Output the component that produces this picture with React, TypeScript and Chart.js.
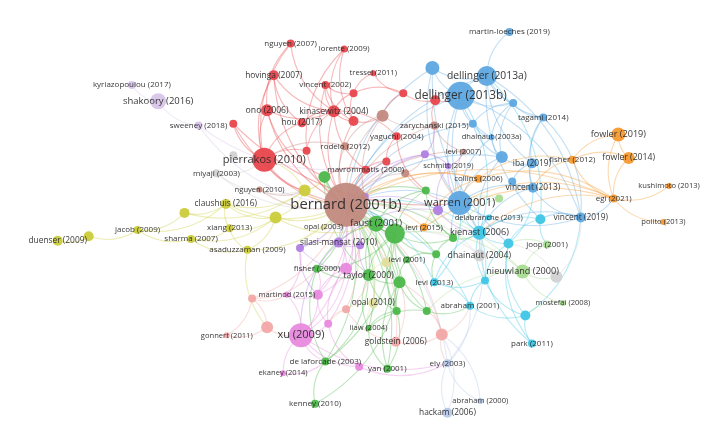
import React, { useEffect, useRef } from "react";
import { Chart, registerables } from "chart.js";
Chart.register(...registerables);

// cluster colours (VOSviewer-like palette)
const clusterColors = [
  "#e8474d", // 0 red
  "#c28a80", // 1 brown
  "#5ea8e2", // 2 blue
  "#f59a33", // 3 orange
  "#4cb84a", // 4 green
  "#cccc3c", // 5 yellow
  "#b07fe3", // 6 purple
  "#d8c5ea", // 7 light purple
  "#e88ade", // 8 pink
  "#f2a8a6", // 9 salmon
  "#40c6e6", // 10 cyan
  "#a9dc92", // 11 light green
  "#b5c8e8", // 12 light blue
  "#d2d2d2", // 13 gray
  "#e2dea0", // 14 pale yellow
];

// nodes: [id, label, x, y, weight]
const redNodes: [string, string, number, number, number][] = [
  ["r1", "nguyen (2007)", 286, 24, 4],
  ["r2", "lorente (2009)", 343, 30, 3.5],
  ["r3", "hovinga (2007)", 268, 59, 5],
  ["r4", "vincent (2002)", 323, 70, 4],
  ["r5", "tressel (2011)", 374, 57, 3],
  ["r6", "", 353, 79, 4],
  ["r7", "", 406, 79, 4],
  ["r8", "", 440, 87, 5],
  ["r9", "ono (2006)", 261, 98, 6],
  ["r10", "kinasewitz (2004)", 332, 99, 6],
  ["r11", "", 353, 110, 5],
  ["r12", "hou (2017)", 298, 112, 4.5],
  ["r13", "", 225, 113, 4],
  ["r14", "", 303, 143, 4],
  ["r15", "yaguchi (2004)", 399, 127, 4],
  ["r16", "", 388, 155, 4],
  ["r17", "mavrommatis (2000)", 366, 164, 4],
  ["r18", "pierrakos (2010)", 258, 153, 12],
];
const brownNodes: [string, string, number, number, number][] = [
  ["b1", "bernard (2001b)", 345, 203, 22],
  ["b2", "", 384, 104, 6],
  ["b3", "zarychanski (2015)", 439, 115, 4],
  ["b4", "rodelo (2012)", 344, 138, 4],
  ["b5", "levi (2007)", 470, 144, 3],
  ["b6", "", 408, 168, 4],
  ["b7", "nguyen (2010)", 253, 186, 3],
];
const blueNodes: [string, string, number, number, number][] = [
  ["u1", "martin-loeches (2019)", 519, 11, 4],
  ["u2", "", 437, 51, 7],
  ["u3", "dellinger (2013a)", 495, 60, 10],
  ["u4", "dellinger (2013b)", 467, 82, 14],
  ["u5", "", 523, 90, 4],
  ["u6", "tagami (2014)", 555, 106, 4],
  ["u7", "", 480, 113, 4],
  ["u8", "dhainaut (2003a)", 500, 128, 3],
  ["u9", "", 511, 150, 6],
  ["u10", "iba (2019)", 543, 157, 5],
  ["u11", "", 522, 177, 4],
  ["u12", "vincent (2013)", 544, 184, 5],
  ["u13", "warren (2001)", 466, 201, 12],
  ["u14", "vincent (2019)", 595, 217, 5],
];
const orangeNodes: [string, string, number, number, number][] = [
  ["o1", "fowler (2019)", 635, 125, 7],
  ["o2", "fowler (2014)", 646, 151, 6],
  ["o3", "fisher (2012)", 586, 153, 4],
  ["o4", "collins (2006)", 486, 174, 4],
  ["o5", "egi (2021)", 630, 196, 4],
  ["o6", "kushimoto (2013)", 689, 182, 3],
  ["o7", "polito (2013)", 683, 222, 3],
  ["o8", "levi (2015)", 428, 228, 4],
];
const greenNodes: [string, string, number, number, number][] = [
  ["g1", "", 322, 172, 6],
  ["g2", "", 430, 187, 4],
  ["g3", "faust (2001)", 377, 224, 8],
  ["g4", "", 397, 235, 10],
  ["g5", "", 459, 240, 4],
  ["g6", "", 441, 258, 4],
  ["g7", "levi (2001)", 410, 264, 3.5],
  ["g8", "fisher (2000)", 314, 274, 4],
  ["g9", "taylor (2000)", 369, 281, 6],
  ["g10", "", 402, 289, 6],
  ["g11", "", 399, 321, 4],
  ["g12", "", 431, 321, 4],
  ["g13", "liaw (2004)", 369, 340, 3],
  ["g14", "de laforcade (2003)", 323, 377, 4],
  ["g15", "yan (2001)", 389, 385, 4],
  ["g16", "kenney (2010)", 312, 424, 4],
];
const yellowNodes: [string, string, number, number, number][] = [
  ["y1", "duenser (2009)", 38, 243, 5],
  ["y2", "", 71, 238, 5],
  ["y3", "jacob (2009)", 123, 231, 4],
  ["y4", "", 173, 212, 5],
  ["y5", "sharma (2007)", 180, 241, 4],
  ["y6", "claushuis (2016)", 217, 202, 5],
  ["y7", "xiang (2013)", 221, 229, 4],
  ["y8", "asaduzzaman (2009)", 240, 253, 4],
  ["y9", "", 270, 217, 6],
  ["y10", "", 301, 187, 6],
];
const purpleNodes: [string, string, number, number, number][] = [
  ["p1", "schmitt (2019)", 454, 160, 3],
  ["p2", "", 429, 147, 4],
  ["p3", "", 365, 194, 4],
  ["p4", "", 443, 209, 5],
  ["p5", "silasi-mansat (2010)", 337, 245, 5],
  ["p6", "", 360, 248, 4],
  ["p7", "", 296, 251, 4],
];
const lightPurpleNodes: [string, string, number, number, number][] = [
  ["lp1", "kyriazopoulou (2017)", 117, 70, 4],
  ["lp2", "shakoory (2016)", 145, 88, 8],
  ["lp3", "sweeney (2018)", 188, 115, 4],
];
const pinkNodes: [string, string, number, number, number][] = [
  ["k1", "xu (2009)", 297, 348, 12],
  ["k2", "", 345, 274, 6],
  ["k3", "martinod (2015)", 282, 303, 3],
  ["k4", "", 315, 303, 5],
  ["k5", "", 326, 335, 4],
  ["k6", "ekaney (2014)", 278, 390, 3],
  ["k7", "", 359, 383, 4],
];
const salmonNodes: [string, string, number, number, number][] = [
  ["s1", "gonnert (2011)", 218, 348, 3],
  ["s2", "", 261, 339, 6],
  ["s3", "", 245, 307, 4],
  ["s4", "", 345, 319, 4],
  ["s5", "", 447, 347, 6],
  ["s6", "goldstein (2006)", 398, 355, 5],
];
const cyanNodes: [string, string, number, number, number][] = [
  ["c1", "delabranche (2013)", 497, 217, 3],
  ["c2", "", 552, 219, 5],
  ["c3", "kienast (2006)", 487, 234, 7],
  ["c4", "", 518, 246, 5],
  ["c5", "levi (2013)", 439, 289, 4],
  ["c6", "", 493, 287, 4],
  ["c7", "abraham (2001)", 477, 315, 4],
  ["c8", "", 536, 326, 5],
  ["c9", "park (2011)", 543, 357, 4],
];
const lightGreenNodes: [string, string, number, number, number][] = [
  ["l1", "", 508, 196, 4],
  ["l2", "joop (2001)", 559, 247, 4],
  ["l3", "nieuwland (2000)", 533, 277, 7],
  ["l4", "mostefai (2008)", 576, 312, 3],
];
const lightBlueNodes: [string, string, number, number, number][] = [
  ["lb1", "ely (2003)", 453, 379, 4],
  ["lb2", "abraham (2000)", 488, 421, 3],
  ["lb3", "hackam (2006)", 453, 434, 5],
];
const grayNodes: [string, string, number, number, number][] = [
  ["gr1", "miyaji (2003)", 207, 168, 4],
  ["gr2", "", 225, 148, 4],
  ["gr3", "dhainaut (2004)", 487, 259, 6],
  ["gr4", "", 569, 283, 6],
];
const paleYellowNodes: [string, string, number, number, number][] = [
  ["py1", "opal (2003)", 321, 228, 3],
  ["py2", "", 388, 267, 5],
  ["py3", "opal (2010)", 374, 312, 5],
];

const clusterNodeLists = [
  redNodes, brownNodes, blueNodes, orangeNodes, greenNodes, yellowNodes,
  purpleNodes, lightPurpleNodes, pinkNodes, salmonNodes, cyanNodes,
  lightGreenNodes, lightBlueNodes, grayNodes, paleYellowNodes,
];

// links between publications
const hubLinks = [
  "r3", "r4", "r9", "r10", "r11", "r14", "r16", "r17", "r18", "r13", "b2", "b3", "b4", "b5",
  "b6", "b7", "u2", "u3", "u4", "u7", "u9", "u13", "o4", "o8", "g1", "g2", "g3", "g4",
  "g5", "g6", "g8", "g9", "g10", "g11", "g12", "g13", "g14", "g15", "y6", "y9", "y10",
  "y8", "p2", "p3", "p4", "p5", "p6", "p7", "lp3", "k1", "k2", "k4", "k5", "s3", "s4",
  "s5", "s6", "c3", "c5", "c7", "l3", "lb1", "gr1", "gr3", "py1", "py2", "py3", "o5",
];
const redLinks: [string, string][] = [
  ["r1", "r18"], ["r1", "r10"], ["r2", "r11"], ["r2", "r14"], ["r3", "r18"], ["r3", "r12"],
  ["r4", "r10"], ["r4", "r11"], ["r5", "r6"], ["r6", "r10"], ["r6", "r11"], ["r9", "r18"],
  ["r9", "r10"], ["r10", "r11"], ["r10", "r12"], ["r10", "r14"], ["r10", "r17"],
  ["r12", "r18"], ["r13", "r18"], ["r7", "r8"], ["r7", "r6"], ["r7", "b2"], ["r8", "u4"],
  ["r15", "r16"], ["r15", "r10"], ["r16", "r17"], ["r14", "r18"], ["r11", "b2"],
  ["r17", "g1"], ["r18", "y10"], ["r5", "r7"], ["r4", "r6"], ["r2", "r10"], ["r1", "r9"],
  ["r9", "g1"], ["r3", "r10"], ["r8", "b3"], ["r15", "g2"], ["r13", "u13"],
];
const brownLinks: [string, string][] = [
  ["b2", "b3"], ["b2", "b4"], ["b3", "b5"], ["b3", "u13"], ["b4", "r18"], ["b6", "u13"],
  ["b7", "y10"], ["b5", "u13"], ["b2", "p3"], ["b6", "p2"],
];
const blueLinks: [string, string][] = [
  ["u1", "u3"], ["u2", "u3"], ["u2", "u4"], ["u3", "u4"], ["u3", "u5"], ["u3", "u6"],
  ["u4", "u5"], ["u4", "u7"], ["u4", "u13"], ["u4", "u8"], ["u5", "u6"], ["u5", "u7"],
  ["u5", "u8"], ["u5", "u9"], ["u6", "u10"], ["u6", "u12"], ["u7", "u8"], ["u7", "u9"],
  ["u8", "u9"], ["u8", "u13"], ["u9", "u10"], ["u9", "u13"], ["u10", "u12"],
  ["u10", "u11"], ["u11", "u12"], ["u12", "u13"], ["u12", "u14"], ["u13", "u14"],
  ["u14", "c2"], ["u14", "c3"], ["u14", "u3"], ["u3", "u10"], ["u2", "u13"], ["u4", "c3"],
  ["u13", "c3"], ["u13", "p4"], ["u14", "o5"], ["u14", "u4"], ["u9", "c3"], ["u12", "c3"],
  ["u14", "u6"], ["u2", "c4"], ["u3", "c2"], ["u13", "g5"],
];
const orangeLinks: [string, string][] = [
  ["o1", "o2"], ["o1", "o3"], ["o1", "o5"], ["o2", "o5"], ["o3", "o5"], ["o5", "o6"],
  ["o5", "o7"], ["o5", "o4"], ["o4", "o8"], ["o3", "o4"], ["o5", "u13"], ["o5", "o8"],
  ["o3", "u12"], ["o2", "o3"], ["o4", "u13"], ["o8", "g4"], ["o5", "c3"], ["o4", "p3"],
];
const greenLinks: [string, string][] = [
  ["g1", "g3"], ["g1", "g4"], ["g2", "g3"], ["g2", "g4"], ["g3", "g4"], ["g3", "g9"],
  ["g3", "g10"], ["g4", "g5"], ["g4", "g6"], ["g4", "g7"], ["g4", "g9"], ["g4", "g10"],
  ["g4", "g11"], ["g4", "g12"], ["g5", "g6"], ["g5", "c3"], ["g6", "g7"], ["g7", "g10"],
  ["g8", "g9"], ["g8", "g14"], ["g8", "g4"], ["g9", "g10"], ["g9", "g13"], ["g9", "g11"],
  ["g10", "g11"], ["g10", "g12"], ["g11", "g13"], ["g12", "g13"], ["g13", "g15"],
  ["g14", "g16"], ["g14", "g9"], ["g15", "g11"], ["g10", "g15"], ["g14", "g4"],
  ["g12", "c7"], ["g3", "g8"], ["g6", "c5"], ["g2", "g5"], ["g1", "g9"], ["g16", "g10"],
];
const yellowLinks: [string, string][] = [
  ["y1", "y2"], ["y2", "y3"], ["y3", "y4"], ["y3", "y5"], ["y4", "y6"], ["y5", "y7"],
  ["y5", "y9"], ["y6", "y7"], ["y6", "y9"], ["y6", "y10"], ["y7", "y9"], ["y7", "y8"],
  ["y8", "y9"], ["y9", "y10"], ["y10", "g1"], ["y4", "y10"], ["y5", "y8"], ["y8", "s2"],
  ["y3", "y6"], ["y10", "r18"], ["y9", "g3"],
];
const lightPurpleLinks: [string, string][] = [
  ["lp1", "lp2"], ["lp2", "lp3"], ["lp3", "r16"],
];
const purpleLinks: [string, string][] = [
  ["p1", "p2"], ["p1", "p4"], ["p2", "p3"], ["p3", "p5"], ["p4", "p5"], ["p5", "p6"],
  ["p5", "p7"], ["p6", "g9"], ["p7", "k2"], ["p1", "u13"], ["p2", "b3"], ["p7", "k4"],
  ["p5", "k1"], ["p4", "c3"], ["p1", "b5"], ["p3", "g4"],
];
const pinkLinks: [string, string][] = [
  ["k1", "k2"], ["k1", "k3"], ["k1", "k4"], ["k1", "k5"], ["k1", "k6"], ["k1", "k7"],
  ["k2", "k4"], ["k2", "k5"], ["k3", "k4"], ["k4", "k5"], ["k5", "k7"], ["k7", "lb1"],
  ["k2", "g9"], ["k4", "g8"], ["k2", "p5"], ["k1", "g14"], ["k6", "g14"], ["k4", "p6"],
  ["k3", "p7"], ["k1", "lb1"],
];
const salmonLinks: [string, string][] = [
  ["s1", "s2"], ["s1", "s3"], ["s2", "s3"], ["s2", "k1"], ["s3", "k3"], ["s4", "s6"],
  ["s4", "g9"], ["s6", "s5"], ["s5", "c7"], ["s5", "g12"], ["s5", "lb1"], ["s6", "g10"],
  ["s4", "k5"], ["s3", "g8"], ["s5", "g10"],
];
const cyanLinks: [string, string][] = [
  ["c1", "c3"], ["c2", "c3"], ["c2", "c4"], ["c3", "c4"], ["c3", "c5"], ["c3", "c6"],
  ["c4", "c6"], ["c4", "c8"], ["c5", "c6"], ["c6", "c7"], ["c7", "c8"], ["c8", "c9"],
  ["c4", "c9"], ["c6", "c8"], ["c3", "u4"], ["c2", "u3"], ["c4", "u12"], ["c7", "c5"],
  ["c3", "c9"], ["c2", "l2"], ["c5", "u13"], ["c6", "u13"], ["c8", "u14"],
];
const lightGreenLinks: [string, string][] = [
  ["l1", "u13"], ["l1", "g5"], ["l2", "l3"], ["l2", "c4"], ["l3", "c6"], ["l3", "l4"],
  ["l3", "g12"], ["l3", "gr4"], ["l4", "c8"], ["l3", "g4"],
];
const lightBlueLinks: [string, string][] = [
  ["lb1", "lb2"], ["lb1", "lb3"], ["lb1", "c3"], ["lb2", "s5"], ["lb3", "s5"], ["lb1", "c7"],
];
const grayLinks: [string, string][] = [
  ["gr1", "r18"], ["gr1", "y10"], ["gr3", "c3"], ["gr3", "g4"], ["gr3", "u13"],
  ["gr4", "l3"], ["gr4", "u14"], ["gr2", "r18"], ["gr4", "c4"],
];
const paleYellowLinks: [string, string][] = [
  ["py2", "g4"], ["py2", "g9"], ["py3", "g9"], ["py3", "k5"], ["py3", "g13"], ["py1", "p7"],
];

const linkLists = [
  redLinks, brownLinks, blueLinks, orangeLinks, greenLinks, yellowLinks, lightPurpleLinks,
  purpleLinks, pinkLinks, salmonLinks, cyanLinks, lightGreenLinks, lightBlueLinks,
  grayLinks, paleYellowLinks,
];

function hexToRgba(hex: string, a: number) {
  const n = parseInt(hex.slice(1), 16);
  return `rgba(${(n >> 16) & 255},${(n >> 8) & 255},${n & 255},${a})`;
}

type NodeRec = { id: string; label: string; x: number; y: number; w: number; c: number };

export default function App() {
  const ref = useRef<HTMLCanvasElement | null>(null);

  useEffect(() => {
    document.body.style.margin = "0";
    const nodes: NodeRec[] = [];
    clusterNodeLists.forEach((list, c) =>
      list.forEach(([id, label, x, y, w]) => nodes.push({ id, label, x, y, w, c }))
    );
    const byId: Record<string, NodeRec> = {};
    nodes.forEach((n) => (byId[n.id] = n));
    const links: [string, string][] = [];
    hubLinks.forEach((id) => links.push([id, "b1"]));
    linkLists.forEach((l) => l.forEach((p) => links.push(p)));

    const radius = (w: number) => w;
    const fontSize = (w: number) => 7.6 + (w - 3) * 0.38;

    const networkPlugin = {
      id: "network",
      beforeDatasetsDraw(chart: any) {
        const ctx = chart.ctx;
        const xs = chart.scales.x;
        const ys = chart.scales.y;
        ctx.save();
        ctx.lineWidth = 1.1;
        links.forEach(([a, b]) => {
          const na = byId[a];
          const nb = byId[b];
          if (!na || !nb) return;
          const x1 = xs.getPixelForValue(na.x);
          const y1 = ys.getPixelForValue(na.y);
          const x2 = xs.getPixelForValue(nb.x);
          const y2 = ys.getPixelForValue(nb.y);
          const dx = x2 - x1;
          const dy = y2 - y1;
          const mx = (x1 + x2) / 2;
          const my = (y1 + y2) / 2;
          const k = 0.24;
          const cx = mx - dy * k;
          const cy = my + dx * k;
          ctx.strokeStyle = hexToRgba(clusterColors[na.c], 0.38);
          ctx.beginPath();
          ctx.moveTo(x1, y1);
          ctx.quadraticCurveTo(cx, cy, x2, y2);
          ctx.stroke();
        });
        ctx.restore();
      },
      afterDatasetsDraw(chart: any) {
        const ctx = chart.ctx;
        const xs = chart.scales.x;
        const ys = chart.scales.y;
        ctx.save();
        ctx.textAlign = "center";
        ctx.textBaseline = "middle";
        ctx.fillStyle = "rgba(40,40,40,0.92)";
        nodes.forEach((n) => {
          if (!n.label) return;
          ctx.font = `${fontSize(n.w).toFixed(1)}px "Open Sans"`;
          ctx.fillText(n.label, xs.getPixelForValue(n.x), ys.getPixelForValue(n.y));
        });
        ctx.restore();
      },
    };

    const order = [...nodes].sort((a, b) => a.w - b.w);
    const chart = new Chart(ref.current as HTMLCanvasElement, {
      type: "scatter",
      data: {
        datasets: [
          {
            data: order.map((n) => ({ x: n.x, y: n.y })),
            pointRadius: order.map((n) => radius(n.w)),
            pointHoverRadius: order.map((n) => radius(n.w)),
            backgroundColor: order.map((n) => hexToRgba(clusterColors[n.c], 0.95)),
            borderWidth: 0,
          },
        ],
      },
      options: {
        responsive: false,
        animation: false,
        events: [],
        layout: { padding: 0 },
        plugins: { legend: { display: false }, tooltip: { enabled: false } },
        scales: {
          x: { type: "linear", min: 0, max: 723, display: false },
          y: { type: "linear", min: 0, max: 442, reverse: true, display: false },
        },
      },
      plugins: [networkPlugin],
    });
    return () => chart.destroy();
  }, []);

  return (
    <div style={{ width: 723, height: 442, background: "#fff" }}>
      <canvas ref={ref} width={723} height={442} style={{ display: "block" }} />
    </div>
  );
}
